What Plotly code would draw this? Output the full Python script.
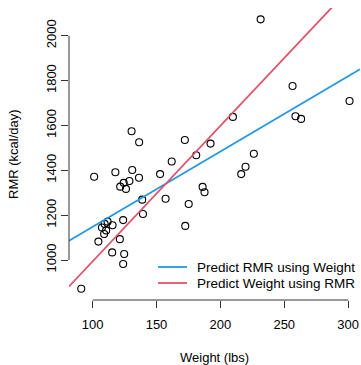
import numpy as np
import plotly.graph_objects as go

# Data (weight in lbs, RMR in kcal/day)
weight = [231.5, 256.5, 301.1, 258.8, 263.2, 209.8, 172.2, 192.3, 181.1, 226.2,
          219.7, 216.3, 161.9, 152.8, 130.5, 136.4, 101.2, 117.8, 131.0, 136.3,
          124.3, 128.8, 121.6, 126.1, 186.1, 187.6, 175.2, 157.1, 138.8, 139.4,
          172.5, 123.9, 111.7, 109.4, 115.6, 107.3, 110.6, 109.0, 121.3, 104.5,
          115.3, 124.7, 123.9, 91.1]
rmr = [2073, 1776, 1709, 1641, 1629, 1638, 1535, 1519, 1467, 1474,
       1416, 1383, 1439, 1383, 1574, 1525, 1371, 1391, 1401, 1367,
       1344, 1352, 1327, 1317, 1326, 1302, 1250, 1273, 1269, 1205,
       1152, 1178, 1171, 1161, 1155, 1145, 1132, 1116, 1093, 1082,
       1034, 1027, 982, 872]

x_ticks = [100, 150, 200, 250, 300]
y_ticks = [1000, 1200, 1400, 1600, 1800, 2000]
x_range = [81.5, 309.3]
y_range = [821.7, 2123.5]

legend_names = ["Predict RMR using Weight", "Predict Weight using RMR"]
line_colors = ["#2297E6", "#DF536B"]

w = np.array(weight, dtype=float)
r = np.array(rmr, dtype=float)

# regression of RMR on weight
b1, a1 = np.polyfit(w, r, 1)
# regression of weight on RMR, re-expressed as RMR vs weight
b2, a2 = np.polyfit(r, w, 1)

xs = np.array(x_range)
y_blue = a1 + b1 * xs
y_red = (xs - a2) / b2

fig = go.Figure()
fig.add_trace(go.Scatter(
    x=weight, y=rmr, mode="markers", showlegend=False,
    marker=dict(symbol="circle-open", size=7, color="black", line=dict(width=1.1)),
))
fig.add_trace(go.Scatter(x=xs, y=y_blue, mode="lines", name=legend_names[0], showlegend=False,
                         line=dict(color=line_colors[0], width=1.8)))
fig.add_trace(go.Scatter(x=xs, y=y_red, mode="lines", name=legend_names[1], showlegend=False,
                         line=dict(color=line_colors[1], width=1.8)))

font = "Liberation Sans, Arial, sans-serif"

# manual legend (R-style, tight spacing)
leg_x0, leg_x1, leg_tx = 0.3058, 0.4055, 0.4330
leg_y = [0.1130, 0.0582]
shapes = [
    dict(type="line", xref="x", yref="paper", x0=x_ticks[0], x1=x_ticks[-1],
         y0=0, y1=0, line=dict(color="#333", width=1)),
    dict(type="line", xref="paper", yref="y", x0=0, x1=0,
         y0=y_ticks[0], y1=y_ticks[-1], line=dict(color="#333", width=1)),
]
annotations = [
    dict(text="Weight (lbs)", xref="paper", yref="paper", x=0.5, y=-0.1986,
         xanchor="center", yanchor="middle", showarrow=False, font=dict(size=13)),
    dict(text="RMR (kcal/day)", xref="paper", yref="paper", x=-0.1924, y=0.5,
         xanchor="center", yanchor="middle", textangle=-90, showarrow=False,
         font=dict(size=13)),
]
for name, col, yy in zip(legend_names, line_colors, leg_y):
    shapes.append(dict(type="line", xref="paper", yref="paper", x0=leg_x0, x1=leg_x1,
                       y0=yy, y1=yy, line=dict(color=col, width=1.8)))
    annotations.append(dict(text=name, xref="paper", yref="paper", x=leg_tx, y=yy,
                            xanchor="left", yanchor="middle", showarrow=False,
                            font=dict(size=13.5)))

fig.update_layout(
    width=361, height=365,
    margin=dict(l=69, r=1, t=8, b=65),
    plot_bgcolor="white", paper_bgcolor="white",
    font=dict(family=font, size=13, color="black"),
    showlegend=False,
    xaxis=dict(range=x_range, tickvals=x_ticks, ticktext=[str(v) for v in x_ticks],
               ticks="outside", ticklen=7, tickcolor="#333", tickwidth=1,
               showgrid=False, zeroline=False, showline=False, ticklabelstandoff=5),
    yaxis=dict(range=y_range, tickvals=y_ticks, ticktext=[str(v) for v in y_ticks],
               ticks="outside", ticklen=7, tickcolor="#333", tickwidth=1,
               tickangle=-90,
               showgrid=False, zeroline=False, showline=False, ticklabelstandoff=0),
    shapes=shapes,
    annotations=annotations,
)

fig.write_html("out.html")
